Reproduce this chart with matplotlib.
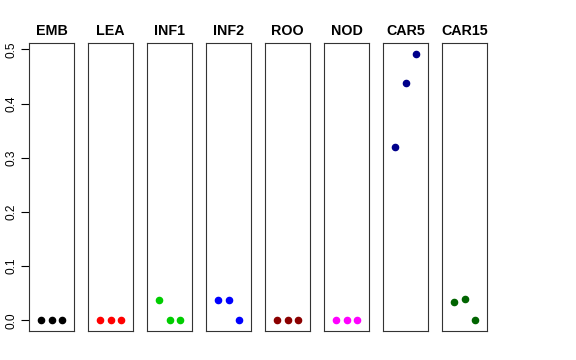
import matplotlib.pyplot as plt

plt.rcParams['font.family'] = ['Liberation Sans', 'DejaVu Sans']

tissues = ['EMB', 'LEA', 'INF1', 'INF2', 'ROO', 'NOD', 'CAR5', 'CAR15']
colors = ['#000000', '#FF0000', '#00CD00', '#0000FF', '#8B0000', '#FF00FF', '#00008B', '#006400']
x_pos = [1, 2, 3]
values = {
    'EMB': [0.0, 0.0, 0.0],
    'LEA': [0.0, 0.0, 0.0],
    'INF1': [0.037, 0.0, 0.0],
    'INF2': [0.038, 0.038, 0.0],
    'ROO': [0.0, 0.0, 0.0],
    'NOD': [0.0, 0.0, 0.0],
    'CAR5': [0.319, 0.437, 0.492],
    'CAR15': [0.034, 0.040, 0.0],
}
yticks = [0.0, 0.1, 0.2, 0.3, 0.4, 0.5]

W, H = 576, 360
fig = plt.figure(figsize=(W / 100, H / 100), dpi=100)

ymin, ymax = 0.0, 0.492
yext = (ymax - ymin) * 0.04
left0, step, pw = 29, 59, 45
top, bottom = 43, 331

for i, (name, col) in enumerate(zip(tissues, colors)):
    left = left0 + i * step
    ax = fig.add_axes([left / W, 1 - bottom / H, pw / W, (bottom - top) / H])
    ax.scatter(x_pos, values[name], s=20, color=col, zorder=3)
    ax.set_xlim(-0.16, 4.16)
    ax.set_ylim(ymin - yext, ymax + yext)
    ax.set_xticks([])
    for sp in ax.spines.values():
        sp.set_linewidth(0.8)
        sp.set_color('#333333')
    ax.set_title(name, fontsize=10.3, fontweight='bold', pad=6)
    if i == 0:
        ax.set_yticks(yticks)
        ax.set_yticklabels([f'{v:.1f}' for v in yticks], rotation=90, va='center', fontsize=8.6)
        ax.tick_params(axis='y', length=5.5, width=0.8, pad=3)
    else:
        ax.set_yticks([])

fig.savefig('out.png', dpi=100)
